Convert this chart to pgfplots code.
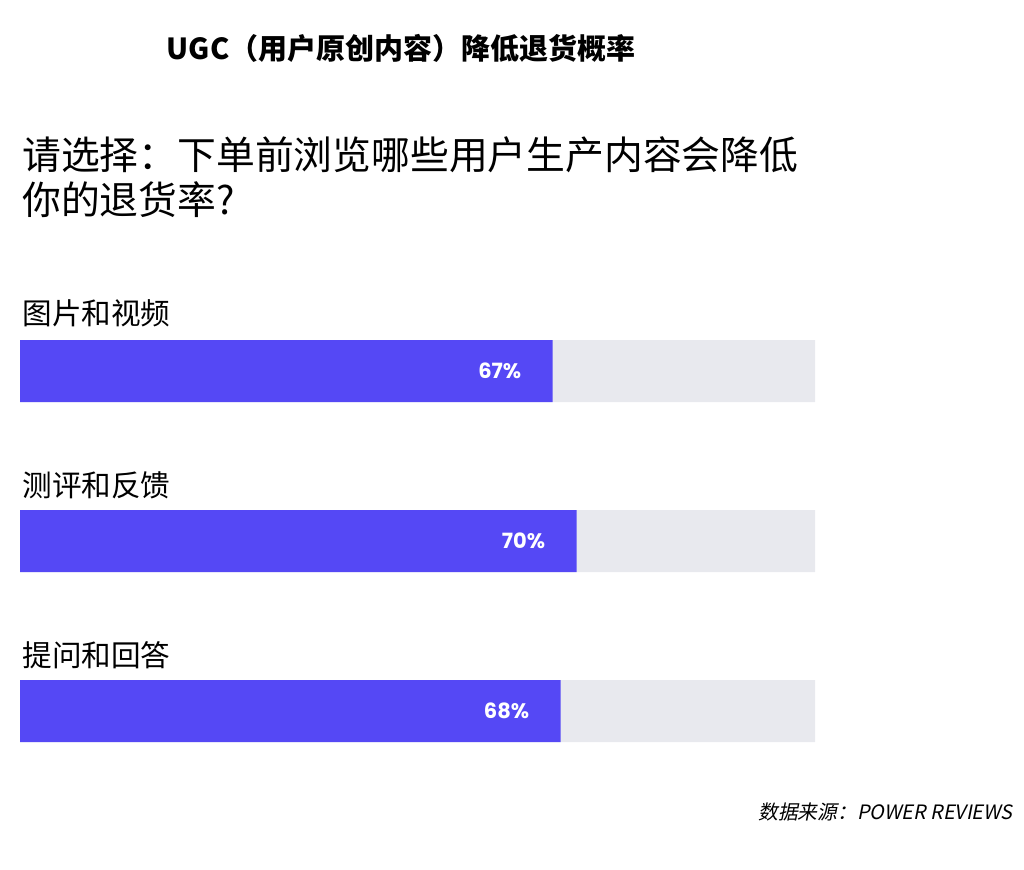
\documentclass[border=0pt]{standalone}
\usepackage{pgfplots}
\pgfplotsset{compat=1.18}
\usepackage{fontspec}
\setmainfont{Noto Sans CJK SC}
\newfontfamily\srcfont{Noto Sans CJK SC}[FakeSlant=0.2]
\newfontfamily\pctfont{Poppins}
\definecolor{barblue}{HTML}{5548F5}
\definecolor{bargray}{HTML}{E8E9EE}
\begin{document}
\begin{tikzpicture}
% page frame: 1024 x 869 px at 0.5pt per px
\path (0pt,0pt) rectangle (512pt,-434.5pt);
\node[font=\fontsize{14.5}{17}\selectfont\bfseries] at (200.5pt,-24pt) {UGC（用户原创内容）降低退货概率};
\node[anchor=west,inner sep=0pt,font=\fontsize{19.4}{23}\selectfont] at (11pt,-77.5pt) {请选择：下单前浏览哪些用户生产内容会降低};
\node[anchor=west,inner sep=0pt,font=\fontsize{19.4}{23}\selectfont] at (11pt,-100pt) {你的退货率?};
\node[anchor=east,inner sep=0pt,font=\srcfont\fontsize{9.9}{12}\selectfont] at (506.5pt,-406pt) {数据来源：POWER REVIEWS};
\begin{axis}[
  at={(10pt,-143pt)}, anchor=north west,
  scale only axis, width=397.5pt, height=255pt,
  xbar, bar width=31pt, bar shift=0pt,
  xmin=0, xmax=100, ymin=-0.5, ymax=2.5,
  y dir=reverse,
  axis lines=none, ticks=none,
  clip=false,
  /pgf/number format/assume math mode=true,
]
\addplot[draw=none, fill=bargray] coordinates {(100,0) (100,1) (100,2)};
\addplot[draw=none, fill=barblue,
  nodes near coords={\pgfmathprintnumber{\pgfplotspointmeta}\%},
  every node near coord/.append style={anchor=east, xshift=-15.5pt, text=white,
    font=\pctfont\bfseries\fontsize{10.5}{12}\selectfont, inner sep=0pt},
] coordinates {(67,0) (70,1) (68,2)};
\node[anchor=west,inner sep=0pt,font=\fontsize{14.8}{17}\selectfont] at ([xshift=1pt,yshift=29pt]axis cs:0,0) {图片和视频};
\node[anchor=west,inner sep=0pt,font=\fontsize{14.8}{17}\selectfont] at ([xshift=1pt,yshift=28pt]axis cs:0,1) {测评和反馈};
\node[anchor=west,inner sep=0pt,font=\fontsize{14.8}{17}\selectfont] at ([xshift=1pt,yshift=28pt]axis cs:0,2) {提问和回答};
\end{axis}
\end{tikzpicture}
\end{document}
